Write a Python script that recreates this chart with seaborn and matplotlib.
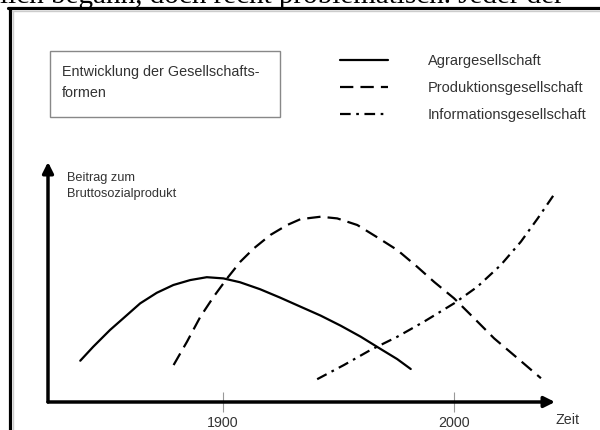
import matplotlib
matplotlib.use('Agg')
import matplotlib.pyplot as plt
import seaborn as sns
from matplotlib.lines import Line2D
from matplotlib.patches import Rectangle

sns.set_theme(style="white")
plt.rcParams['font.family'] = ['Liberation Sans', 'DejaVu Sans']

# Werte (x = Jahr, y = Beitrag in willkürlichen Einheiten 0-100)
agrar_jahre = [1838, 1843.6, 1850.9, 1856.7, 1864, 1871.2, 1878.4, 1885.7, 1892.9, 1900.1,
               1907.3, 1916, 1924.7, 1933.6, 1942.3, 1951, 1959.7, 1968.3, 1975.5, 1981.4]
agrar_werte = [17.2, 23, 30, 34.9, 41.1, 45.5, 48.75, 50.8, 52, 51.5,
               49.9, 47, 43.5, 39.7, 36, 31.8, 27.2, 22.1, 17.9, 13.75]

prod_jahre = [1878.5, 1884.3, 1890.1, 1895.9, 1901.7, 1907.5, 1913.3, 1920.5, 1927.8, 1933.6,
              1942.3, 1949.5, 1958.2, 1966.9, 1975.6, 1984.3, 1991.6, 2000.2, 2008.9, 2017.6,
              2027.8, 2037.9]
prod_werte = [15.4, 25.1, 35.5, 43.9, 51.5, 58.5, 64, 69.6, 73.75, 76.2,
              77.2, 76.5, 73.75, 68.6, 63.3, 56.25, 50, 43.2, 34.9, 26.5,
              18.2, 9.9]

info_jahre = [1940.8, 1952.4, 1964, 1975.6, 1987.2, 2000.2, 2010.3, 2020.5, 2029.2, 2036.5, 2044.4]
info_werte = [9.5, 15.4, 21.7, 27.2, 33.5, 41.1, 48, 57.1, 66.8, 76.5, 87.6]

x_ticks = [1900, 2000]
serien = ['Agrargesellschaft', 'Produktionsgesellschaft', 'Informationsgesellschaft']

fig = plt.figure(figsize=(6, 4.3), dpi=100)
W, H = 600, 430
grau = '#333333'

# abgeschnittener Fließtext oben + Rahmen
fig.text(0, 1 - 3 / H, 'lich begann, doch recht problematisch. Jeder der',
         va='baseline', ha='left', family='Liberation Serif', fontsize=21, color='black')
fig.add_artist(Line2D([9.5 / W, 9.5 / W], [0, 1 - 7.5 / H], color='black', lw=2.3))
fig.add_artist(Line2D([8 / W, 1], [1 - 7.5 / H, 1 - 7.5 / H], color='black', lw=2.3))
fig.add_artist(Line2D([12.5 / W, 12.5 / W], [0, 1 - 10.5 / H], color='#cccccc', lw=1))
fig.add_artist(Line2D([12 / W, 1], [1 - 10.5 / H, 1 - 10.5 / H], color='#cccccc', lw=1))

ax = fig.add_axes([48 / W, 28 / H, (555 - 48) / W, (402 - 162) / H])
ax.set_xlim(1824, 2044)
ax.set_ylim(0, 100)

sns.lineplot(x=agrar_jahre, y=agrar_werte, ax=ax, color='black', lw=1.6,
             linestyle='-', label=serien[0], clip_on=False)
sns.lineplot(x=prod_jahre, y=prod_werte, ax=ax, color='black', lw=1.6,
             linestyle=(0, (6, 3.2)), label=serien[1], clip_on=False)
sns.lineplot(x=info_jahre, y=info_werte, ax=ax, color='black', lw=1.6,
             linestyle=(0, (4.8, 2.5, 1.2, 2.5)), label=serien[2], clip_on=False)

# Achsen als Pfeile
for s in ax.spines.values():
    s.set_visible(False)
ax.annotate('', xy=(1, 0), xytext=(0, 0), xycoords='axes fraction',
            arrowprops=dict(arrowstyle='-|>', lw=2.5, color='black', mutation_scale=16,
                            shrinkA=0, shrinkB=0))
ax.annotate('', xy=(0, 1), xytext=(0, 0), xycoords='axes fraction',
            arrowprops=dict(arrowstyle='-|>', lw=2.5, color='black', mutation_scale=16,
                            shrinkA=0, shrinkB=0))

ax.set_xticks(x_ticks)
ax.set_xticklabels([str(t) for t in x_ticks])
ax.set_yticks([])
ax.tick_params(axis='x', bottom=True, direction='inout', length=14, width=0.8,
               color='#999999', labelsize=10.3, labelcolor=grau, pad=3)
ax.set_xlabel('')
ax.set_ylabel('')

fig.text(568 / W, 1 - 420 / H, 'Zeit', ha='center', va='center', fontsize=10.3, color=grau)
fig.text(67 / W, 1 - 186 / H, 'Beitrag zum\nBruttosozialprodukt', ha='left', va='center',
         fontsize=9.2, color=grau, linespacing=1.45)

# Titelkasten
fig.add_artist(Rectangle((50 / W, 1 - 117 / H), 230 / W, 66 / H, transform=fig.transFigure,
                         fill=False, edgecolor='#888888', lw=1))
fig.text(62 / W, 1 - 82.5 / H, 'Entwicklung der Gesellschafts-\nformen', ha='left', va='center',
         fontsize=10.4, color=grau, linespacing=1.6)

leg = ax.legend(loc='upper left', bbox_to_anchor=(340 / W, 1 - 54 / H), bbox_transform=fig.transFigure,
                frameon=False, fontsize=10.5, handlelength=3.3, handletextpad=2.7,
                labelspacing=0.9, borderpad=0, borderaxespad=0)
for t in leg.get_texts():
    t.set_color(grau)

fig.savefig('out.png', dpi=100)
